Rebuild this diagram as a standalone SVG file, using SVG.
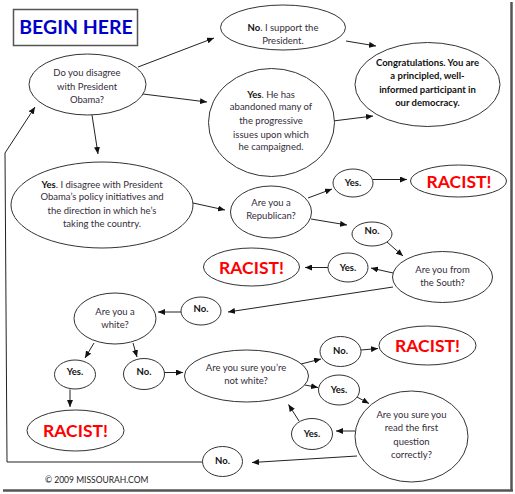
<svg xmlns="http://www.w3.org/2000/svg" width="515" height="494" viewBox="0 0 515 494">
<defs>
<marker id="ah" markerUnits="userSpaceOnUse" markerWidth="7" markerHeight="6" refX="7" refY="3" orient="auto">
<path d="M0,0 L7,3 L0,6 z" fill="#111"/>
</marker>
<style>
ellipse{fill:#fff;stroke:#333;stroke-width:1}
text{font-family:Lato,"Open Sans","Liberation Sans",sans-serif;font-size:9.5px;fill:#352d3a;text-anchor:middle}
.b{font-weight:bold;fill:#111}
.r{font-family:Lato,"Open Sans","Liberation Sans",sans-serif;font-size:17.5px;font-weight:bold;fill:#ff0000}
#connectors path,#connectors line{fill:none;stroke:#222;stroke-width:1;marker-end:url(#ah)}
</style>
</defs>
<rect width="515" height="494" fill="#fff"/>
<g id="frame">
<line x1="511.5" y1="2" x2="511.5" y2="491" stroke="#555" stroke-width="2.5"/>
<line x1="3" y1="490.5" x2="513" y2="490.5" stroke="#555" stroke-width="2.5"/>
</g>
<g id="connectors">
<line x1="138" y1="67" x2="214" y2="38"/>
<line x1="143" y1="94" x2="207" y2="102"/>
<line x1="92" y1="115" x2="98" y2="154"/>
<path d="M203,462 L7,462 L5,153 L35,107"/>
<line x1="346" y1="41" x2="376" y2="46"/>
<line x1="333" y1="121" x2="373" y2="116"/>
<line x1="193" y1="203" x2="225" y2="210"/>
<line x1="308" y1="198" x2="332" y2="189"/>
<line x1="373" y1="179.5" x2="407" y2="179.5"/>
<line x1="311" y1="219" x2="347" y2="225"/>
<line x1="387" y1="242" x2="403" y2="256"/>
<line x1="393" y1="273" x2="371" y2="268"/>
<line x1="328" y1="267.5" x2="305" y2="267.5"/>
<line x1="393" y1="287" x2="228" y2="312"/>
<line x1="181" y1="312" x2="158" y2="312"/>
<line x1="94" y1="343" x2="85" y2="358"/>
<line x1="133" y1="343" x2="137" y2="357"/>
<line x1="70" y1="389.5" x2="70" y2="407"/>
<line x1="164" y1="372.5" x2="183" y2="372.5"/>
<line x1="301" y1="364" x2="321" y2="359"/>
<line x1="361" y1="350" x2="378" y2="348.5"/>
<line x1="305" y1="385" x2="318" y2="387.5"/>
<line x1="357" y1="397" x2="369" y2="403.5"/>
<line x1="355" y1="431" x2="336" y2="431"/>
<line x1="299" y1="421" x2="288.5" y2="404.5"/>
<line x1="357" y1="456" x2="252" y2="462.5"/>
</g>
<g id="begin">
<rect x="13.5" y="9.5" width="124" height="36" fill="#fff" stroke="#555" stroke-width="1.5"/>
<text x="76" y="34" style="font-family:Lato,'Open Sans',sans-serif;font-size:19.5px;font-weight:bold;fill:#0000cc">BEGIN HERE</text>
</g>
<g id="q-disagree">
<ellipse cx="87.5" cy="84.5" rx="58.5" ry="30.5"/>
<text x="87" y="75.5">Do you disagree</text>
<text x="87" y="89.5">with President</text>
<text x="87" y="102.5">Obama?</text>
</g>
<g id="a-support">
<ellipse cx="283" cy="27.5" rx="62.5" ry="22.5"/>
<text x="283" y="31"><tspan class="b">No</tspan>. I support the</text>
<text x="283" y="43.5">President.</text>
</g>
<g id="congrats">
<ellipse cx="427.5" cy="84.5" rx="72.5" ry="42"/>
<text class="b" x="427.5" y="65.5">Congratulations. You are</text>
<text class="b" x="427.5" y="78.5">a principled, well-</text>
<text class="b" x="427.5" y="92.5">informed participant in</text>
<text class="b" x="427.5" y="105.5">our democracy.</text>
</g>
<g id="a-abandoned">
<ellipse cx="271.5" cy="122.5" rx="63" ry="54"/>
<text x="271" y="97.5"><tspan class="b">Yes</tspan>. He has</text>
<text x="271" y="110">abandoned many of</text>
<text x="271" y="123.5">the progressive</text>
<text x="271" y="137.5">issues upon which</text>
<text x="271" y="150">he campaigned.</text>
</g>
<g id="a-policy">
<ellipse cx="102" cy="205" rx="91" ry="43"/>
<text x="102" y="187.5"><tspan class="b">Yes</tspan>. I disagree with President</text>
<text x="102" y="200">Obama’s policy initiatives and</text>
<text x="102" y="214">the direction in which he’s</text>
<text x="102" y="226.5">taking the country.</text>
</g>
<g id="q-republican">
<ellipse cx="271" cy="212" rx="40.5" ry="26"/>
<text x="271" y="206">Are you a</text>
<text x="271" y="219">Republican?</text>
</g>
<g id="yes-rep">
<ellipse cx="353" cy="183" rx="20" ry="14"/>
<text class="b" x="353" y="185.5">Yes.</text>
</g>
<g id="racist-1">
<ellipse cx="458.5" cy="181" rx="48" ry="16"/>
<text class="r" x="459" y="187.5">RACIST!</text>
</g>
<g id="no-rep">
<ellipse cx="372" cy="234" rx="20" ry="12"/>
<text class="b" x="372" y="233.5">No.</text>
</g>
<g id="q-south">
<ellipse cx="442.5" cy="277" rx="50" ry="25.5"/>
<text x="442.5" y="272.5">Are you from</text>
<text x="442.5" y="285.5">the South?</text>
</g>
<g id="yes-south">
<ellipse cx="348" cy="267.5" rx="20" ry="14.5"/>
<text class="b" x="348" y="270.5">Yes.</text>
</g>
<g id="racist-2">
<ellipse cx="251.5" cy="267" rx="48" ry="19"/>
<text class="r" x="251.5" y="273.5">RACIST!</text>
</g>
<g id="no-south">
<ellipse cx="201" cy="311" rx="20" ry="14"/>
<text class="b" x="201" y="311.5">No.</text>
</g>
<g id="q-white">
<ellipse cx="115" cy="318.5" rx="41" ry="25.5"/>
<text x="115" y="315">Are you a</text>
<text x="115" y="327.5">white?</text>
</g>
<g id="yes-white">
<ellipse cx="75" cy="374.5" rx="20.5" ry="14.5"/>
<text class="b" x="75" y="375">Yes.</text>
</g>
<g id="no-white">
<ellipse cx="144" cy="374" rx="20.5" ry="15.5"/>
<text class="b" x="144" y="375">No.</text>
</g>
<g id="racist-3">
<ellipse cx="75.5" cy="430.5" rx="48.5" ry="20.5"/>
<text class="r" x="75.5" y="436.5">RACIST!</text>
</g>
<g id="q-notwhite">
<ellipse cx="246.5" cy="376" rx="62" ry="26"/>
<text x="246" y="370.5">Are you sure you’re</text>
<text x="246" y="383.5">not white?</text>
</g>
<g id="no-notwhite">
<ellipse cx="340.5" cy="351.5" rx="20.5" ry="15"/>
<text class="b" x="340.5" y="353.5">No.</text>
</g>
<g id="racist-4">
<ellipse cx="427.5" cy="345.5" rx="48.5" ry="19.5"/>
<text class="r" x="427.5" y="351.5">RACIST!</text>
</g>
<g id="yes-notwhite">
<ellipse cx="339" cy="390" rx="20.5" ry="15"/>
<text class="b" x="339" y="392.5">Yes.</text>
</g>
<g id="q-read">
<ellipse cx="411.5" cy="436.5" rx="56.5" ry="45.5"/>
<text x="411.5" y="417.5">Are you sure you</text>
<text x="411.5" y="431">read the first</text>
<text x="411.5" y="444.5">question</text>
<text x="411.5" y="457.5">correctly?</text>
</g>
<g id="yes-read">
<ellipse cx="312" cy="434" rx="20.5" ry="15.5"/>
<text class="b" x="312" y="436.5">Yes.</text>
</g>
<g id="no-read">
<ellipse cx="222.5" cy="461.5" rx="20" ry="15"/>
<text class="b" x="222.5" y="463.5">No.</text>
</g>
<text x="45" y="482.5" style="text-anchor:start;font-size:8.5px;fill:#222">© 2009 MISSOURAH.COM</text>
</svg>
